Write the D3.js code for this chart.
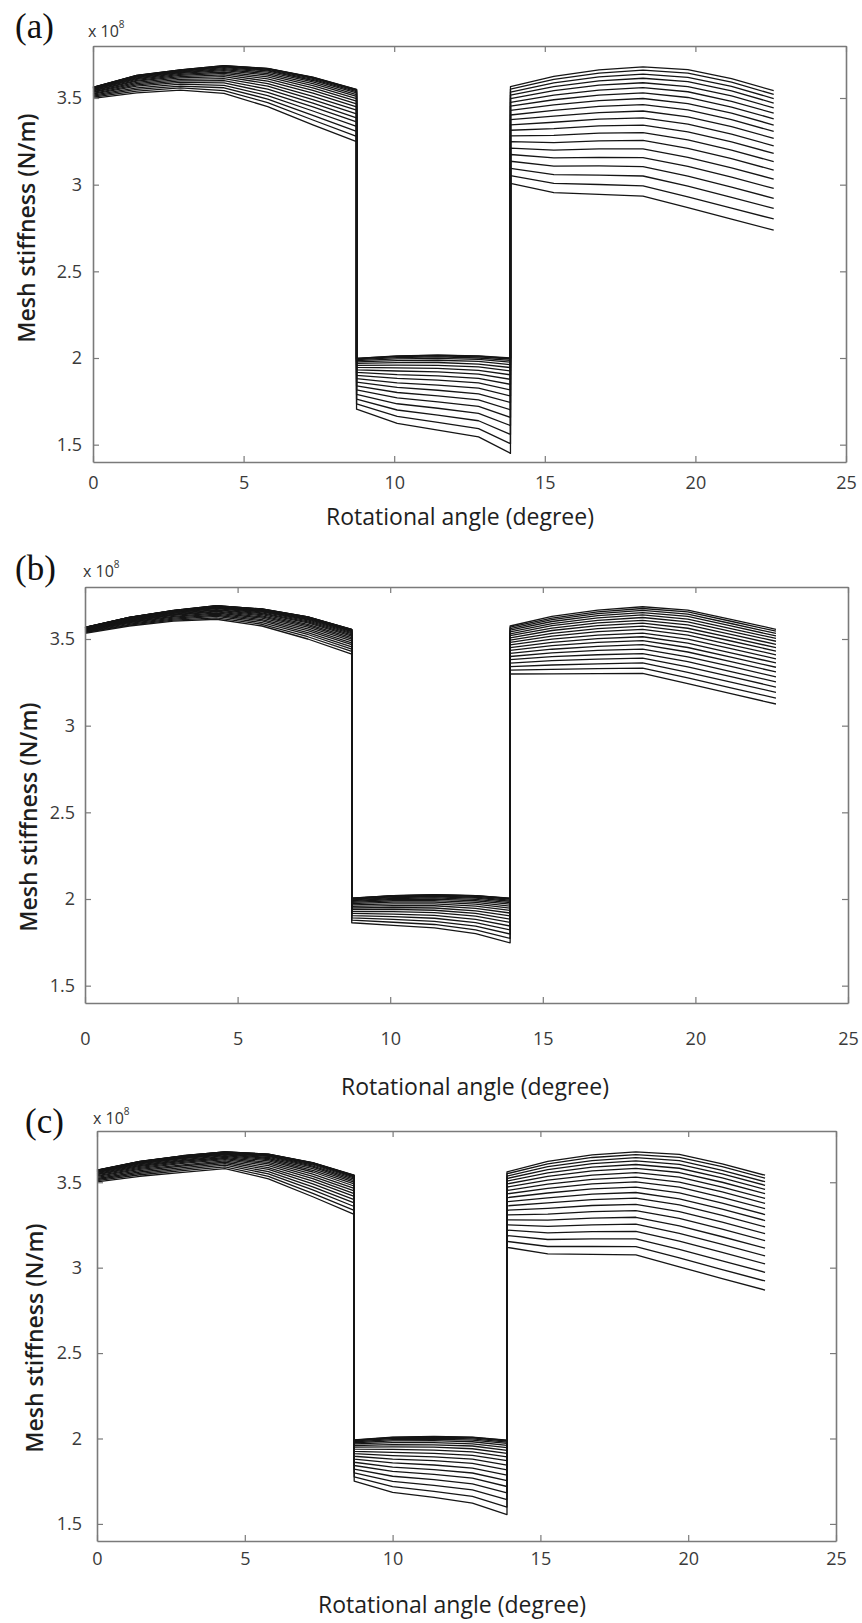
<!DOCTYPE html>
<html>
<head>
<meta charset="utf-8">
<script src="https://cdn.jsdelivr.net/npm/d3@7"></script>
<style>
  body { margin: 0; background: #fff; }
  svg { display: block; }
</style>
</head>
<body>
<svg id="fig" width="862" height="1623"></svg>
<script>
// Rotational angle (degree) of each sample; the repeated angles are the
// double/single tooth-contact switch points, drawn as vertical steps.
const anglesA = [0, 1.45, 2.9, 4.35, 5.8, 7.3, 8.75, 8.75, 10.1, 11.45, 12.8, 13.86, 13.86, 15.3, 16.8, 18.26, 19.75, 21.2, 22.6];
const anglesB = [0, 1.45, 2.9, 4.31, 5.8, 7.3, 8.74, 8.74, 10.1, 11.45, 12.8, 13.93, 13.93, 15.3, 16.8, 18.27, 19.75, 21.2, 22.64];
const anglesC = [0, 1.45, 2.9, 4.33, 5.8, 7.3, 8.70, 8.70, 10.0, 11.4, 12.7, 13.87, 13.87, 15.25, 16.75, 18.23, 19.7, 21.15, 22.6];

const xTicks = [0, 5, 10, 15, 20, 25];
const yTicks = [1.5, 2, 2.5, 3, 3.5];

// Mesh stiffness (x 10^8 N/m), one row per crack level, healthy first.
const stiffnessA = [
  [3.562, 3.630, 3.662, 3.686, 3.671, 3.620, 3.550, 1.998, 2.012, 2.017, 2.012, 2.000, 3.565, 3.625, 3.662, 3.680, 3.664, 3.612, 3.542],
  [3.562, 3.630, 3.662, 3.686, 3.670, 3.619, 3.549, 1.997, 2.011, 2.016, 2.011, 1.998, 3.551, 3.608, 3.643, 3.661, 3.643, 3.591, 3.521],
  [3.561, 3.629, 3.661, 3.684, 3.669, 3.617, 3.547, 1.995, 2.008, 2.012, 2.007, 1.994, 3.534, 3.587, 3.622, 3.638, 3.619, 3.567, 3.497],
  [3.560, 3.628, 3.659, 3.682, 3.665, 3.613, 3.542, 1.991, 2.002, 2.006, 2.000, 1.986, 3.516, 3.566, 3.599, 3.614, 3.594, 3.541, 3.471],
  [3.559, 3.626, 3.657, 3.679, 3.661, 3.608, 3.537, 1.985, 1.995, 1.998, 1.992, 1.976, 3.497, 3.543, 3.574, 3.588, 3.566, 3.512, 3.443],
  [3.558, 3.623, 3.654, 3.675, 3.656, 3.601, 3.529, 1.978, 1.985, 1.987, 1.980, 1.962, 3.475, 3.517, 3.546, 3.560, 3.536, 3.481, 3.413],
  [3.556, 3.620, 3.650, 3.670, 3.649, 3.593, 3.520, 1.969, 1.973, 1.974, 1.965, 1.945, 3.453, 3.490, 3.517, 3.529, 3.503, 3.448, 3.380],
  [3.553, 3.616, 3.646, 3.664, 3.641, 3.583, 3.509, 1.958, 1.959, 1.958, 1.949, 1.925, 3.428, 3.460, 3.485, 3.497, 3.468, 3.413, 3.344],
  [3.551, 3.612, 3.642, 3.658, 3.632, 3.571, 3.497, 1.946, 1.943, 1.940, 1.929, 1.903, 3.402, 3.429, 3.452, 3.462, 3.431, 3.375, 3.307],
  [3.548, 3.608, 3.636, 3.650, 3.622, 3.558, 3.482, 1.932, 1.925, 1.920, 1.907, 1.877, 3.375, 3.396, 3.416, 3.425, 3.391, 3.335, 3.267],
  [3.544, 3.602, 3.630, 3.642, 3.610, 3.544, 3.466, 1.917, 1.904, 1.897, 1.883, 1.848, 3.345, 3.360, 3.378, 3.385, 3.349, 3.292, 3.224],
  [3.541, 3.597, 3.623, 3.633, 3.597, 3.528, 3.449, 1.900, 1.882, 1.872, 1.856, 1.816, 3.314, 3.323, 3.339, 3.344, 3.305, 3.247, 3.180],
  [3.536, 3.590, 3.616, 3.623, 3.583, 3.510, 3.430, 1.881, 1.857, 1.844, 1.826, 1.781, 3.282, 3.284, 3.297, 3.300, 3.258, 3.199, 3.133],
  [3.532, 3.583, 3.608, 3.612, 3.568, 3.491, 3.409, 1.861, 1.830, 1.814, 1.793, 1.743, 3.248, 3.243, 3.253, 3.255, 3.210, 3.150, 3.084],
  [3.527, 3.576, 3.599, 3.600, 3.551, 3.471, 3.386, 1.839, 1.801, 1.782, 1.758, 1.701, 3.211, 3.199, 3.206, 3.206, 3.158, 3.097, 3.032],
  [3.522, 3.568, 3.590, 3.587, 3.533, 3.449, 3.362, 1.816, 1.770, 1.747, 1.721, 1.657, 3.174, 3.154, 3.158, 3.156, 3.105, 3.043, 2.978],
  [3.517, 3.559, 3.580, 3.573, 3.514, 3.425, 3.336, 1.790, 1.736, 1.710, 1.681, 1.610, 3.135, 3.107, 3.108, 3.104, 3.049, 2.986, 2.921],
  [3.511, 3.550, 3.569, 3.559, 3.494, 3.400, 3.308, 1.763, 1.700, 1.670, 1.638, 1.559, 3.094, 3.058, 3.055, 3.050, 2.991, 2.927, 2.863],
  [3.505, 3.540, 3.558, 3.543, 3.473, 3.373, 3.279, 1.735, 1.663, 1.628, 1.593, 1.506, 3.052, 3.007, 3.001, 2.993, 2.930, 2.865, 2.802],
  [3.498, 3.530, 3.546, 3.527, 3.450, 3.345, 3.248, 1.705, 1.623, 1.584, 1.545, 1.450, 3.008, 2.954, 2.944, 2.934, 2.867, 2.801, 2.738]
];

const stiffnessB = [
  [3.567, 3.625, 3.665, 3.692, 3.673, 3.628, 3.556, 2.005, 2.020, 2.025, 2.020, 2.005, 3.575, 3.630, 3.667, 3.686, 3.667, 3.612, 3.556],
  [3.567, 3.625, 3.665, 3.692, 3.673, 3.628, 3.556, 2.005, 2.020, 2.024, 2.019, 2.004, 3.568, 3.621, 3.657, 3.676, 3.656, 3.601, 3.545],
  [3.567, 3.624, 3.664, 3.691, 3.672, 3.627, 3.554, 2.003, 2.018, 2.023, 2.018, 2.002, 3.560, 3.612, 3.646, 3.665, 3.643, 3.588, 3.532],
  [3.566, 3.624, 3.663, 3.690, 3.671, 3.625, 3.552, 2.001, 2.016, 2.020, 2.015, 1.999, 3.551, 3.601, 3.635, 3.652, 3.630, 3.574, 3.518],
  [3.566, 3.623, 3.662, 3.689, 3.669, 3.622, 3.550, 1.999, 2.012, 2.017, 2.010, 1.994, 3.541, 3.589, 3.622, 3.639, 3.615, 3.559, 3.503],
  [3.565, 3.622, 3.661, 3.687, 3.666, 3.619, 3.546, 1.995, 2.008, 2.012, 2.005, 1.987, 3.530, 3.577, 3.608, 3.624, 3.599, 3.543, 3.487],
  [3.564, 3.620, 3.659, 3.684, 3.663, 3.615, 3.542, 1.991, 2.003, 2.006, 1.998, 1.979, 3.519, 3.563, 3.593, 3.608, 3.581, 3.525, 3.469],
  [3.562, 3.618, 3.657, 3.681, 3.660, 3.611, 3.537, 1.986, 1.997, 1.999, 1.990, 1.970, 3.507, 3.549, 3.577, 3.592, 3.562, 3.507, 3.450],
  [3.561, 3.616, 3.654, 3.678, 3.656, 3.605, 3.531, 1.980, 1.990, 1.991, 1.981, 1.959, 3.494, 3.533, 3.560, 3.574, 3.543, 3.487, 3.430],
  [3.559, 3.614, 3.651, 3.675, 3.651, 3.599, 3.524, 1.973, 1.982, 1.982, 1.971, 1.947, 3.480, 3.517, 3.542, 3.555, 3.522, 3.465, 3.409],
  [3.558, 3.611, 3.648, 3.670, 3.646, 3.593, 3.516, 1.966, 1.972, 1.972, 1.959, 1.934, 3.466, 3.499, 3.522, 3.534, 3.499, 3.443, 3.386],
  [3.556, 3.608, 3.644, 3.666, 3.640, 3.585, 3.508, 1.957, 1.962, 1.961, 1.946, 1.919, 3.450, 3.481, 3.502, 3.513, 3.476, 3.419, 3.362],
  [3.553, 3.605, 3.640, 3.661, 3.634, 3.577, 3.499, 1.948, 1.951, 1.948, 1.932, 1.902, 3.434, 3.462, 3.480, 3.491, 3.451, 3.394, 3.337],
  [3.551, 3.602, 3.636, 3.656, 3.627, 3.568, 3.489, 1.939, 1.940, 1.935, 1.917, 1.884, 3.417, 3.441, 3.458, 3.467, 3.425, 3.368, 3.310],
  [3.549, 3.598, 3.631, 3.650, 3.620, 3.559, 3.478, 1.928, 1.927, 1.921, 1.901, 1.865, 3.399, 3.420, 3.434, 3.442, 3.397, 3.340, 3.282],
  [3.546, 3.594, 3.626, 3.643, 3.612, 3.548, 3.467, 1.917, 1.913, 1.905, 1.883, 1.844, 3.381, 3.398, 3.409, 3.416, 3.369, 3.311, 3.253],
  [3.543, 3.590, 3.621, 3.637, 3.604, 3.537, 3.455, 1.904, 1.898, 1.889, 1.864, 1.822, 3.361, 3.375, 3.384, 3.390, 3.339, 3.281, 3.223],
  [3.540, 3.585, 3.615, 3.630, 3.595, 3.526, 3.442, 1.891, 1.882, 1.871, 1.844, 1.798, 3.341, 3.350, 3.357, 3.362, 3.308, 3.250, 3.192],
  [3.537, 3.580, 3.609, 3.622, 3.585, 3.513, 3.428, 1.878, 1.866, 1.853, 1.822, 1.773, 3.320, 3.325, 3.329, 3.332, 3.276, 3.217, 3.159],
  [3.533, 3.575, 3.603, 3.614, 3.575, 3.500, 3.413, 1.863, 1.848, 1.833, 1.800, 1.747, 3.298, 3.299, 3.300, 3.302, 3.242, 3.183, 3.125]
];

const stiffnessC = [
  [3.571, 3.622, 3.655, 3.678, 3.665, 3.615, 3.541, 1.992, 2.008, 2.012, 2.008, 1.990, 3.561, 3.622, 3.660, 3.678, 3.663, 3.608, 3.541],
  [3.571, 3.622, 3.655, 3.678, 3.665, 3.614, 3.540, 1.991, 2.007, 2.011, 2.007, 1.989, 3.550, 3.608, 3.645, 3.662, 3.646, 3.591, 3.524],
  [3.570, 3.621, 3.654, 3.677, 3.663, 3.613, 3.539, 1.989, 2.004, 2.008, 2.004, 1.985, 3.536, 3.592, 3.627, 3.644, 3.626, 3.570, 3.503],
  [3.569, 3.620, 3.653, 3.676, 3.661, 3.610, 3.535, 1.986, 2.000, 2.003, 1.998, 1.979, 3.522, 3.574, 3.609, 3.625, 3.605, 3.549, 3.482],
  [3.568, 3.618, 3.651, 3.674, 3.659, 3.606, 3.531, 1.981, 1.994, 1.996, 1.991, 1.971, 3.507, 3.555, 3.588, 3.604, 3.582, 3.525, 3.458],
  [3.566, 3.616, 3.648, 3.671, 3.655, 3.601, 3.525, 1.975, 1.986, 1.987, 1.981, 1.960, 3.490, 3.535, 3.566, 3.581, 3.557, 3.500, 3.433],
  [3.564, 3.613, 3.645, 3.668, 3.651, 3.595, 3.518, 1.968, 1.976, 1.976, 1.969, 1.947, 3.472, 3.513, 3.542, 3.556, 3.530, 3.472, 3.405],
  [3.562, 3.610, 3.642, 3.665, 3.645, 3.588, 3.510, 1.959, 1.964, 1.963, 1.956, 1.931, 3.452, 3.489, 3.517, 3.530, 3.501, 3.443, 3.376],
  [3.559, 3.607, 3.638, 3.661, 3.639, 3.580, 3.501, 1.949, 1.951, 1.949, 1.940, 1.913, 3.432, 3.464, 3.490, 3.502, 3.471, 3.412, 3.345],
  [3.556, 3.603, 3.633, 3.656, 3.633, 3.570, 3.490, 1.938, 1.936, 1.932, 1.922, 1.893, 3.410, 3.437, 3.461, 3.472, 3.438, 3.378, 3.311],
  [3.552, 3.598, 3.628, 3.651, 3.625, 3.560, 3.478, 1.925, 1.919, 1.913, 1.901, 1.870, 3.386, 3.408, 3.430, 3.440, 3.403, 3.343, 3.276],
  [3.548, 3.593, 3.623, 3.645, 3.616, 3.548, 3.464, 1.911, 1.900, 1.892, 1.879, 1.844, 3.362, 3.379, 3.398, 3.407, 3.367, 3.306, 3.239],
  [3.544, 3.587, 3.616, 3.639, 3.607, 3.535, 3.450, 1.896, 1.879, 1.870, 1.854, 1.816, 3.336, 3.347, 3.364, 3.371, 3.328, 3.266, 3.199],
  [3.539, 3.581, 3.610, 3.632, 3.597, 3.521, 3.434, 1.879, 1.857, 1.845, 1.827, 1.786, 3.309, 3.314, 3.328, 3.334, 3.288, 3.225, 3.158],
  [3.534, 3.575, 3.602, 3.625, 3.586, 3.506, 3.417, 1.861, 1.833, 1.818, 1.798, 1.754, 3.280, 3.278, 3.290, 3.295, 3.245, 3.181, 3.114],
  [3.528, 3.568, 3.595, 3.617, 3.575, 3.490, 3.398, 1.842, 1.807, 1.790, 1.768, 1.719, 3.251, 3.242, 3.251, 3.255, 3.201, 3.136, 3.069],
  [3.522, 3.560, 3.586, 3.609, 3.562, 3.473, 3.379, 1.821, 1.779, 1.759, 1.734, 1.682, 3.220, 3.204, 3.211, 3.213, 3.155, 3.089, 3.022],
  [3.516, 3.552, 3.577, 3.600, 3.549, 3.455, 3.358, 1.799, 1.749, 1.726, 1.699, 1.642, 3.188, 3.165, 3.168, 3.169, 3.107, 3.040, 2.973],
  [3.509, 3.544, 3.568, 3.590, 3.535, 3.435, 3.335, 1.776, 1.718, 1.691, 1.661, 1.599, 3.154, 3.124, 3.124, 3.123, 3.057, 2.989, 2.922],
  [3.502, 3.535, 3.558, 3.580, 3.520, 3.415, 3.312, 1.751, 1.685, 1.655, 1.622, 1.555, 3.119, 3.081, 3.078, 3.075, 3.005, 2.936, 2.869]
];

const panelTags = ["(a)", "(b)", "(c)"];
const xTitle = "Rotational angle (degree)";
const yTitle = "Mesh stiffness (N/m)";

// Page layout of the three stacked panels (pixels).
const layout = [
  { box: { l: 93, r: 846, t: 46,   b: 462 },  tag: [15, 38],   exp: [88, 37],   yT: [27, 228],  xT: [460, 525],  xPad: 14, yPad: 11 },
  { box: { l: 85, r: 848, t: 587,  b: 1003 }, tag: [15, 580],  exp: [83, 577],  yT: [29, 817],  xT: [475, 1095], xPad: 29, yPad: 10 },
  { box: { l: 97, r: 836, t: 1131, b: 1541 }, tag: [25, 1133], exp: [93, 1124], yT: [35, 1338], xT: [452, 1613], xPad: 11, yPad: 15 }
];
const series = [
  { rows: stiffnessA, angles: anglesA },
  { rows: stiffnessB, angles: anglesB },
  { rows: stiffnessC, angles: anglesC }
];

const svg = d3.select("#fig");
const sans = "'Open Sans', 'DejaVu Sans', sans-serif";
const axisGrey = "#7a7a7a";

series.forEach((s, pi) => {
  const L = layout[pi];
  const x = d3.scaleLinear().domain([0, 25]).range([L.box.l, L.box.r]);
  const y = d3.scaleLinear().domain([1.4, 3.8]).range([L.box.b, L.box.t]);
  const g = svg.append("g");

  // stiffness curves
  const line = d3.line()
    .x((d, i) => x(s.angles[i]))
    .y(d => y(d));
  g.append("g")
    .selectAll("path")
    .data(s.rows)
    .join("path")
    .attr("d", line)
    .attr("fill", "none")
    .attr("stroke", "#151515")
    .attr("stroke-width", 1.3)
    .attr("stroke-linejoin", "round");

  // box axes with inward ticks
  const styleAxis = sel => {
    sel.select(".domain").attr("stroke", axisGrey).attr("stroke-width", 1.6);
    sel.selectAll(".tick line").attr("stroke", axisGrey).attr("stroke-width", 1.2);
    sel.selectAll(".tick text")
      .attr("font-family", sans)
      .attr("font-size", 18)
      .attr("fill", "#3a3a3a");
  };
  g.append("g")
    .attr("transform", `translate(0,${L.box.b})`)
    .call(d3.axisBottom(x).tickValues(xTicks).tickSize(-6).tickSizeOuter(0).tickPadding(L.xPad).tickFormat(d3.format("d")))
    .call(styleAxis);
  g.append("g")
    .attr("transform", `translate(0,${L.box.t})`)
    .call(d3.axisTop(x).tickValues(xTicks).tickSize(-6).tickSizeOuter(0).tickFormat(""))
    .call(styleAxis);
  g.append("g")
    .attr("transform", `translate(${L.box.l},0)`)
    .call(d3.axisLeft(y).tickValues(yTicks).tickSize(-6).tickSizeOuter(0).tickPadding(L.yPad).tickFormat(d => String(d)))
    .call(styleAxis);
  g.append("g")
    .attr("transform", `translate(${L.box.r},0)`)
    .call(d3.axisRight(y).tickValues(yTicks).tickSize(-6).tickSizeOuter(0).tickFormat(""))
    .call(styleAxis);
  g.selectAll(".domain").attr("fill", "none");

  // axis titles
  g.append("text")
    .attr("x", L.xT[0]).attr("y", L.xT[1])
    .attr("text-anchor", "middle")
    .attr("font-family", sans).attr("font-size", 23)
    .attr("fill", "#1e1e1e")
    .text(xTitle);
  g.append("text")
    .attr("transform", `translate(${L.yT[0]},${L.yT[1]}) rotate(-90)`)
    .attr("text-anchor", "middle").attr("dy", "0.35em")
    .attr("font-family", sans).attr("font-size", 23).attr("font-weight", 600)
    .attr("fill", "#1e1e1e")
    .text(yTitle);

  // exponent note
  const ex = g.append("text")
    .attr("x", L.exp[0]).attr("y", L.exp[1])
    .attr("font-family", sans).attr("font-size", 16)
    .attr("fill", "#333");
  ex.append("tspan").text("x 10");
  ex.append("tspan").attr("dy", -9).attr("font-size", 10).text("8");

  // panel tag
  g.append("text")
    .attr("x", L.tag[0]).attr("y", L.tag[1])
    .attr("font-family", "'Liberation Serif', 'Times New Roman', serif")
    .attr("font-size", 35)
    .attr("fill", "#111")
    .text(panelTags[pi]);
});
</script>
</body>
</html>
